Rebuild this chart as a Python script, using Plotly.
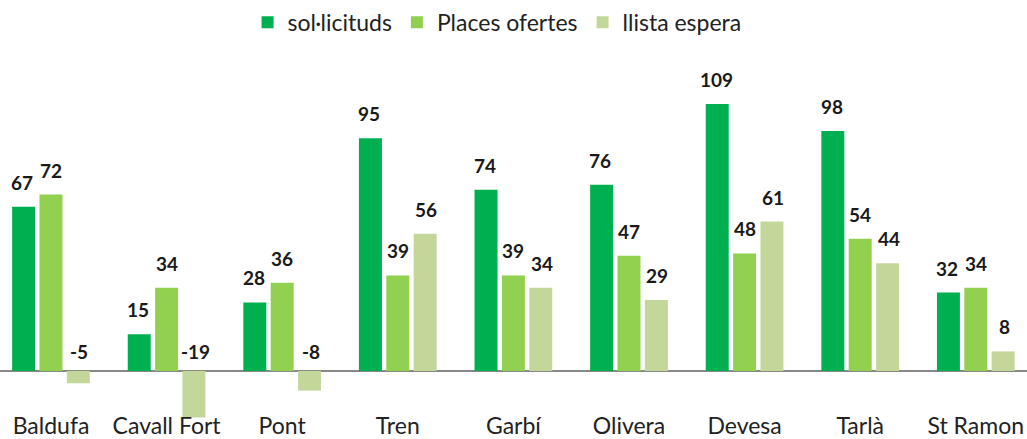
import plotly.graph_objects as go

categories = ["Baldufa", "Cavall Fort", "Pont", "Tren", "Garbí", "Olivera", "Devesa", "Tarlà", "St Ramon"]
solicituds = [67, 15, 28, 95, 74, 76, 109, 98, 32]
places = [72, 34, 36, 39, 39, 47, 48, 54, 34]
llista = [-5, -19, -8, 56, 34, 29, 61, 44, 8]

series = [
    ("sol·licituds", solicituds, "#00B050"),
    ("Places ofertes", places, "#92D050"),
    ("llista espera", llista, "#C4D79B"),
]

fig = go.Figure()
for name, vals, col in series:
    fig.add_trace(go.Bar(name=name, x=categories, y=vals, marker_color=col,
                         marker_line_width=0))

slot = 28.5
annotations = []
for j, (name, vals, col) in enumerate(series):
    for c, v in zip(categories, vals):
        annotations.append(dict(x=c, y=max(v, 0), text="<b>%d</b>" % v, showarrow=False,
                                xref="x", yref="y", xshift=(j - 1) * slot,
                                yanchor="bottom", yshift=11 if v > 0 else 6,
                                font=dict(family="Lato", size=19, color="#1a1a1a")))

T, B = 60, 439
scale = 2.45
zero = 371

fig.update_layout(
    width=1027, height=439,
    margin=dict(l=0, r=0, t=T, b=0, autoexpand=False),
    paper_bgcolor="white", plot_bgcolor="white",
    barmode="group", bargap=0.29, bargroupgap=0.16,
    font=dict(family="Lato", size=20, color="#222"),
    legend=dict(orientation="h", x=0.484, xanchor="center", y=0.998, yanchor="top",
                yref="container", font=dict(size=23, color="#222"), itemwidth=30,
                traceorder="normal"),
    annotations=annotations,
    showlegend=True,
)
fig.update_xaxes(range=[-0.441, 8.443], showgrid=False, showline=False, ticks="",
                 ticklabelposition="inside", ticklabelstandoff=-3, automargin=False,
                 tickfont=dict(size=23, color="#222"))
fig.update_yaxes(range=[(zero - B) / scale, (zero - T) / scale], showgrid=False,
                 showticklabels=False, zeroline=True, zerolinecolor="#888",
                 zerolinewidth=1.5, automargin=False)

fig.write_html("out.html", config={"displayModeBar": False},
               post_script="document.body.style.margin='0';")
